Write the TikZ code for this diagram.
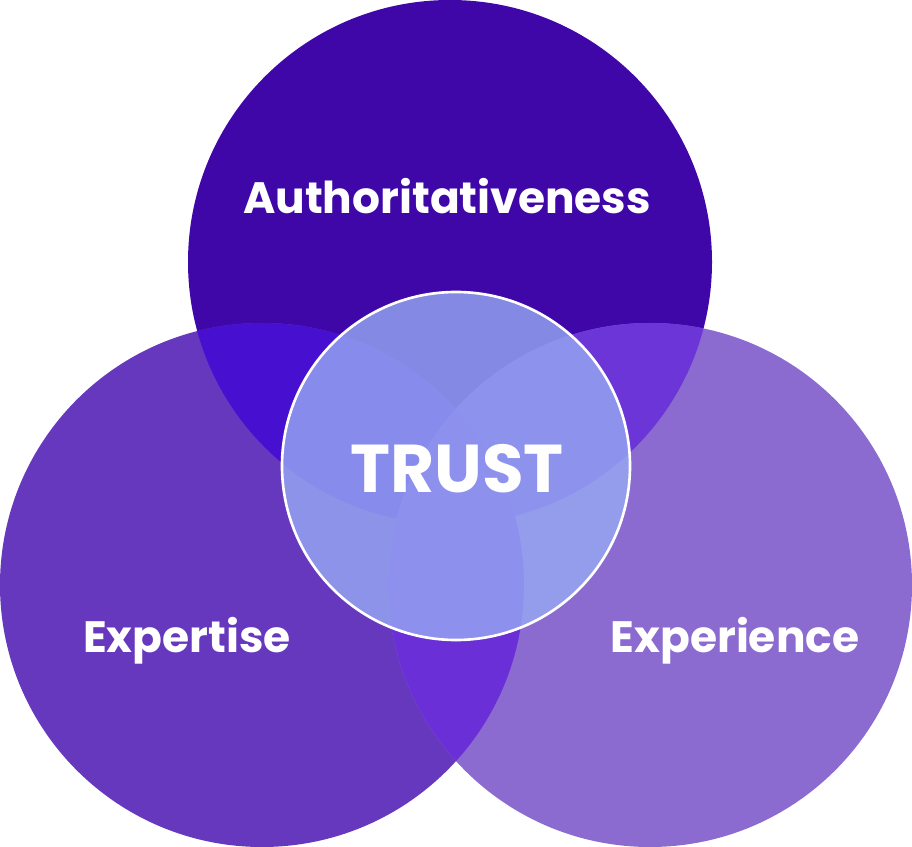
\documentclass[tikz,border=0pt]{standalone}
\usepackage{fontspec}
\setmainfont{Poppins}
\definecolor{topc}{HTML}{3F07A8}
\definecolor{leftc}{HTML}{6638BE}
\definecolor{rightc}{HTML}{8B6BD0}
\definecolor{tlc}{HTML}{4710D0}
\definecolor{trc}{HTML}{6C35D8}
\definecolor{lrc}{HTML}{6A2FD6}
\definecolor{centrec}{HTML}{96AAF3}
\tikzset{font=\bfseries}
\tikzstyle{label}=[text=white,inner sep=0pt]
\begin{document}
\begin{tikzpicture}[x=0.02cm,y=-0.02cm]
	\useasboundingbox (0,0) rectangle (912,847);
	% the three circles
	\fill[topc] (450,262) circle (262);
	\fill[leftc] (262,585) circle (262);
	\fill[rightc] (650,585) circle (262);
	% overlaps
	\begin{scope}
		\clip (450,262) circle (262);
		\fill[tlc] (262,585) circle (262);
		\fill[trc] (650,585) circle (262);
	\end{scope}
	\begin{scope}
		\clip (262,585) circle (262);
		\fill[lrc] (650,585) circle (262);
	\end{scope}
	% centre
	\fill[centrec,opacity=0.8] (456,466) circle (174);
	\draw[white,line width=1.5pt] (456,466) circle (174);
	\node[label,font=\fontsize{25}{26}\bfseries\selectfont] (auth) at (447,196) {Authoritativeness};
	\node[label,font=\fontsize{25}{26}\bfseries\selectfont] (exps) at (187,641) {Expertise};
	\node[label,font=\fontsize{25}{26}\bfseries\selectfont] (expr) at (735,641) {Experience};
	\node[label,font=\fontsize{38.5}{40}\bfseries\selectfont] (trust) at (457,469) {TRUST};
\end{tikzpicture}
\end{document}
